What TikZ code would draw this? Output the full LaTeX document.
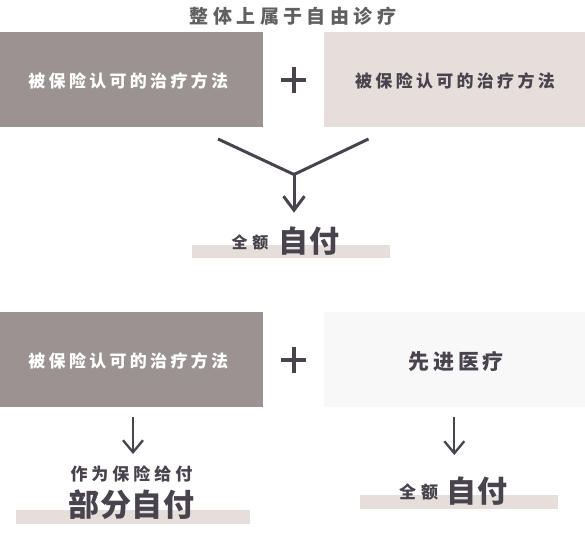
\documentclass[tikz,border=0pt]{standalone}
\usepackage{fontspec}
\setmainfont{Noto Sans CJK SC}
\usetikzlibrary{arrows.meta}
\definecolor{boxdark}{HTML}{9B9392}
\definecolor{boxlight}{HTML}{E5DEDB}
\definecolor{boxpale}{HTML}{F8F8F8}
\definecolor{ink}{HTML}{48434D}
\definecolor{titlegray}{HTML}{606060}
\makeatletter
\def\spaced#1#2{\def\sp@gap{\hspace{#1}}\sp@A#2\relax}
\def\sp@A#1{#1\sp@B}
\def\sp@B#1{\ifx\relax#1\else\sp@gap#1\expandafter\sp@B\fi}
\makeatother
\tikzset{
  fs/.style={font=\fontsize{#1}{#1}\selectfont\bfseries},
  txt/.style={inner sep=0pt, anchor=center},
  plusline/.style={draw=ink, line width=4pt},
  vline/.style={draw=ink, line width=3pt},
  bigarrow/.style={draw=ink, line width=3pt, -{Straight Barb[length=14pt,width=21pt]}},
  smallarrow/.style={draw=ink, line width=2.3pt, -{Straight Barb[length=12pt,width=20pt]}},
}
\begin{document}
\begin{tikzpicture}[x=1pt,y=-1pt]
\useasboundingbox (0,0) rectangle (585,537);
\fill[white] (0,0) rectangle (585,537);
% title
\node[txt, fs=19, text=titlegray] (title) at (293,16.7) {\spaced{4.4pt}{整体上属于自由诊疗}};
% top row boxes
\fill[boxdark] (0,32) rectangle (263,127.5);
\node[txt, fs=17, text=white] (b1) at (128.3,81.3) {\spaced{3.3pt}{被保险认可的治疗方法}};
\fill[boxlight] (324,32) rectangle (585,127.5);
\node[txt, fs=17, text=ink] (b2) at (455,81.3) {\spaced{3.3pt}{被保险认可的治疗方法}};
\coordinate (p1) at (293.5,79.7);
\draw[plusline] ([xshift=-12.5pt]p1) -- ([xshift=12.5pt]p1);
\draw[plusline] ([yshift=-13pt]p1) -- ([yshift=13pt]p1);
% V connector
\coordinate (vl) at (218,139);
\coordinate (vr) at (368.5,139);
\coordinate (vj) at (294,174.5);
\coordinate (ve) at (294,212.7);
\draw[vline, line join=miter] (vl) -- (vj) -- (vr);
\draw[bigarrow] (vj) -- (ve);
% top result
\fill[boxlight] (192.3,244.5) rectangle (390,258.3);
\node[txt, fs=16, text=ink] (q1) at (250,242.2) {\spaced{5pt}{全额}};
\node[txt, fs=30, text=ink] (z1) at (308.8,241) {\spaced{0.7pt}{自付}};
% bottom row boxes
\fill[boxdark] (0,312) rectangle (263,407.3);
\node[txt, fs=17, text=white] (b3) at (128.3,361.3) {\spaced{3.3pt}{被保险认可的治疗方法}};
\fill[boxpale] (324,312) rectangle (585,407.3);
\node[txt, fs=21, text=ink] (b4) at (456.3,361.7) {\spaced{3.8pt}{先进医疗}};
\coordinate (p2) at (293.5,359.7);
\draw[plusline] ([xshift=-12.5pt]p2) -- ([xshift=12.5pt]p2);
\draw[plusline] ([yshift=-13pt]p2) -- ([yshift=13pt]p2);
% left result
\coordinate (la) at (133,416.7);
\coordinate (lb) at (133,454);
\draw[smallarrow] (la) -- (lb);
\fill[boxlight] (16,510) rectangle (250,524);
\node[txt, fs=17, text=ink] (g1) at (131.5,474) {\spaced{4pt}{作为保险给付}};
\node[txt, fs=31, text=ink] (g2) at (131.5,504.5) {\spaced{0.7pt}{部分自付}};
% right result
\coordinate (ra) at (454.3,416.7);
\coordinate (rb) at (454.3,455);
\draw[smallarrow] (ra) -- (rb);
\fill[boxlight] (360,495) rectangle (558,509);
\node[txt, fs=17, text=ink] (q2) at (418.5,492) {\spaced{5pt}{全额}};
\node[txt, fs=30, text=ink] (z2) at (476.8,491) {\spaced{0.7pt}{自付}};
\end{tikzpicture}
\end{document}
